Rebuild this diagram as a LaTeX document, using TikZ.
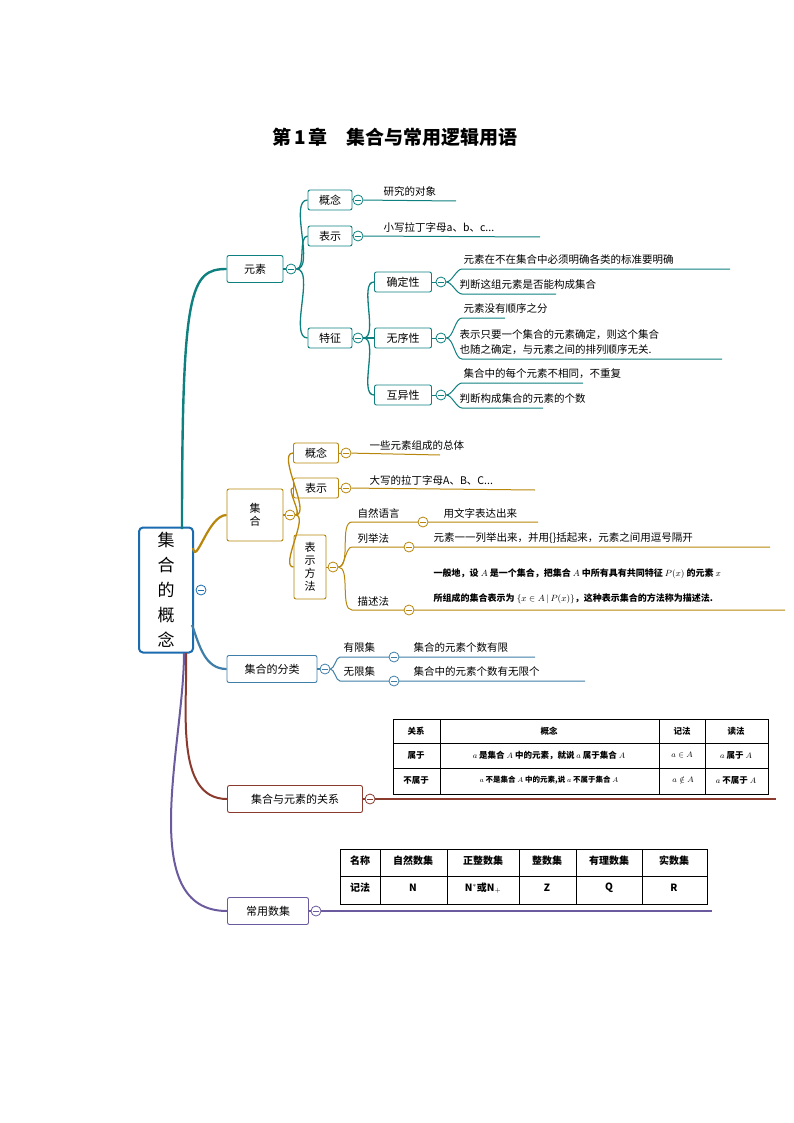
\documentclass[tikz,border=0pt]{standalone}
\usepackage{fontspec}
\setmainfont{Noto Sans CJK SC}
\usepackage{amssymb}
\usetikzlibrary{positioning, calc}
\definecolor{mapteal}{HTML}{0E8080}
\definecolor{mapgold}{HTML}{B8860B}
\definecolor{mapblue}{HTML}{3F7EA8}
\definecolor{mapbrown}{HTML}{8B3A2E}
\definecolor{mappurple}{HTML}{6B5A9E}
\definecolor{mapcenter}{HTML}{1A6BB0}
\begin{document}
\begin{tikzpicture}[x=1pt, y=-1pt,
        topic/.style={draw=#1, rounded corners=2pt, line width=0.9pt,
                      fill=white, inner sep=3pt, font=\fontsize{11}{13}\selectfont,
                      minimum height=20pt, align=center},
        minus/.style={circle, draw=#1, line width=0.8pt, fill=white,
                      minimum size=10pt, inner sep=0pt,
                      path picture={\draw[#1, line width=0.8pt]
                        ([xshift=-2.6pt]path picture bounding box.center) --
                        ([xshift=2.6pt]path picture bounding box.center);}},
        leaf/.style={anchor=south west, inner sep=1.5pt,
                     font=\fontsize{10.5}{15}\selectfont, align=left},
        branch/.style={draw=#1, line width=1.3pt},
        twig/.style={draw=#1, line width=1pt},
        link/.style={out=0, in=180, looseness=0.7}
      ]
        \useasboundingbox (0,0) rectangle (794,1123);
        % Title
        \node[font=\fontsize{19}{22}\selectfont\bfseries] (title) at (395,137)
          {第\,1\,章\quad 集合与常用逻辑用语};
        % Centre
        \node[draw=mapcenter, line width=2pt, rounded corners=4pt, fill=white,
              minimum width=54pt, minimum height=125pt, align=center,
              font=\fontsize{17}{25}\selectfont] (root) at (166,590)
          {集\\合\\的\\概\\念};
        \node[minus=mapcenter] (mroot) at (201,590) {};
        % Main topics
        \node[topic=mapteal, minimum width=56pt, minimum height=27pt] (elem) at (255,269) {元素};
        \node[topic=mapgold, minimum width=56pt, minimum height=52pt] (set) at (255,515) {集\\合};
        \node[topic=mapblue, minimum width=90pt, minimum height=27pt] (kind) at (272,669) {集合的分类};
        \node[topic=mapbrown, minimum width=135pt, minimum height=27pt] (rel) at (295,799) {集合与元素的关系};
        \node[topic=mappurple, minimum width=81pt, minimum height=27pt] (nums) at (268,911) {常用数集};
        % Main branches
        \draw[line width=2.4pt, mapteal] (182,529) .. controls (182,290) and (190,269) .. (elem.west);
        \draw[line width=2.2pt, mapgold] (193,548) to[out=-80, in=180] (set.west);
        \draw[line width=2.2pt, mapblue] (192,625) to[out=-70, in=180] (kind.west);
        \draw[line width=2pt, mapbrown] (186,653) to[out=-88, in=180, looseness=0.9] (rel.west);
        \draw[line width=2pt, mappurple] (184,653) to[out=-90, in=180, looseness=0.9] (nums.west);

        % ---- 元素 ----
        \node[minus=mapteal] (melem) at (291,269) {};
        \node[topic=mapteal, minimum width=44pt] (econc) at (330,200) {概念};
        \node[topic=mapteal, minimum width=44pt] (erep) at (330,236) {表示};
        \node[topic=mapteal, minimum width=44pt] (efeat) at (330,338) {特征};
        \node[minus=mapteal] (meconc) at (358,200) {};
        \node[minus=mapteal] (merep) at (358,236) {};
        \node[minus=mapteal] (mefeat) at (358,338) {};
        \draw[branch=mapteal] (elem) -- (melem);
        \foreach \c in {econc, erep, efeat}
          \draw[branch=mapteal] (melem.east) to[link] (\c.west);
        \foreach \c in {econc, erep, efeat}
          \draw[twig=mapteal] (\c) -- (m\c);
        \coordinate (econcB) at (456,201);
        \coordinate (erepB) at (540,237);
        \draw[twig=mapteal] (meconc) -- (econcB);
        \draw[twig=mapteal] (merep) -- (erepB);
        \node[leaf] (tconc) at (382,198) {研究的对象};
        \node[leaf] (trep) at (382,234) {小写拉丁字母a、b、c...};
        % 特征 children
        \node[topic=mapteal, minimum width=57pt] (fdet) at (403,282) {确定性};
        \node[topic=mapteal, minimum width=57pt] (fdis) at (403,338) {无序性};
        \node[topic=mapteal, minimum width=57pt] (fdif) at (403,395) {互异性};
        \foreach \c in {fdet, fdis, fdif} {
          \draw[branch=mapteal] (mefeat.east) to[link] (\c.west);
          \node[minus=mapteal] (m\c) at ($(\c.east)+(9,0)$) {};
          \draw[twig=mapteal] (\c) -- (m\c);
        }
        \coordinate (d1a) at (462,269); \coordinate (d1b) at (730,269);
        \coordinate (d2a) at (462,294); \coordinate (d2b) at (556,294);
        \coordinate (s1a) at (462,318); \coordinate (s1b) at (505,318);
        \coordinate (s2a) at (462,359); \coordinate (s2b) at (722,359);
        \coordinate (u1a) at (462,383); \coordinate (u1b) at (583,383);
        \coordinate (u2a) at (462,408); \coordinate (u2b) at (543,408);
        \foreach \m/\a/\b in {mfdet/d1a/d1b, mfdet/d2a/d2b, mfdis/s1a/s1b,
                              mfdis/s2a/s2b, mfdif/u1a/u1b, mfdif/u2a/u2b}
          \draw[twig=mapteal] (\m.east) to[link] (\a) -- (\b);
        \node[leaf] (td1) at (462,266) {元素在不在集合中必须明确各类的标准要明确};
        \node[leaf] (td2) at (458,291) {判断这组元素是否能构成集合};
        \node[leaf] (ts1) at (462,315) {元素没有顺序之分};
        \node[leaf] (ts2) at (458,356) {表示只要一个集合的元素确定，则这个集合\\也随之确定，与元素之间的排列顺序无关.};
        \node[leaf] (tu1) at (462,380) {集合中的每个元素不相同，不重复};
        \node[leaf] (tu2) at (458,405) {判断构成集合的元素的个数};

        % ---- 集合 ----
        \node[minus=mapgold] (mset) at (290,515) {};
        \draw[branch=mapgold] (set) -- (mset);
        \node[topic=mapgold, minimum width=45pt] (sconc) at (316,453) {概念};
        \node[topic=mapgold, minimum width=45pt] (srep) at (316,488) {表示};
        \node[topic=mapgold, minimum width=32pt, minimum height=64pt] (smeth) at (310,567) {表\\示\\方\\法};
        \foreach \c in {sconc, srep, smeth}
          \draw[branch=mapgold] (mset.east) to[link] (\c.west);
        \node[minus=mapgold] (msconc) at (346,453) {};
        \node[minus=mapgold] (msrep) at (346,488) {};
        \node[minus=mapgold] (msmeth) at (333,567) {};
        \foreach \c in {sconc, srep, smeth}
          \draw[twig=mapgold] (\c) -- (m\c);
        \coordinate (scB) at (440,455); \coordinate (srB) at (535,490);
        \draw[twig=mapgold] (msconc) -- (scB);
        \draw[twig=mapgold] (msrep) -- (srB);
        \node[leaf] (tsc) at (368,452) {一些元素组成的总体};
        \node[leaf] (tsr) at (368,487) {大写的拉丁字母A、B、C...};
        % 表示方法 children
        \coordinate (natA) at (352,522); \coordinate (natB) at (538,522);
        \coordinate (lisA) at (352,547); \coordinate (lisB) at (770,547);
        \coordinate (desA) at (352,610); \coordinate (desB) at (785,610);
        \foreach \a/\b in {natA/natB, lisA/lisB, desA/desB}
          \draw[twig=mapgold] (msmeth.east) to[link] (\a) -- (\b);
        \node[minus=mapgold] (mnat) at (423,522) {};
        \node[minus=mapgold] (mlis) at (409,547) {};
        \node[minus=mapgold] (mdes) at (409,610) {};
        \node[leaf] (tnat) at (356,520) {自然语言};
        \node[leaf] (tlis) at (356,545) {列举法};
        \node[leaf] (tdes) at (356,608) {描述法};
        \node[leaf] (tnat2) at (442,520) {用文字表达出来};
        \node[leaf] (tlis2) at (432,545) {元素一一列举出来，并用\{\}括起来，元素之间用逗号隔开};
        \node[leaf, font=\fontsize{9}{25}\selectfont\bfseries] (tdes2) at (432,605)
          {一般地，设 $A$ 是一个集合，把集合 $A$ 中所有具有共同特征 $P(x)$ 的元素 $x$\\
           所组成的集合表示为 $\{x\in A\,|\,P(x)\}$，这种表示集合的方法称为描述法.};

        % ---- 集合的分类 ----
        \node[minus=mapblue] (mkind) at (325,669) {};
        \draw[branch=mapblue] (kind) -- (mkind);
        \coordinate (finA) at (340,657); \coordinate (finB) at (535,657);
        \coordinate (infA) at (340,681); \coordinate (infB) at (585,681);
        \foreach \a/\b in {finA/finB, infA/infB}
          \draw[twig=mapblue] (mkind.east) to[link] (\a) -- (\b);
        \node[minus=mapblue] (mfin) at (394,657) {};
        \node[minus=mapblue] (minf) at (394,681) {};
        \node[leaf] (tfin) at (342,654) {有限集};
        \node[leaf] (tinf) at (342,678) {无限集};
        \node[leaf] (tfin2) at (412,654) {集合的元素个数有限};
        \node[leaf] (tinf2) at (412,678) {集合中的元素个数有无限个};

        % ---- 集合与元素的关系 ----
        \node[minus=mapbrown] (mrel) at (370,799) {};
        \coordinate (relB) at (776,799);
        \draw[branch=mapbrown] (rel) -- (mrel) -- (relB);
        \draw[line width=1pt] (393,719) rectangle (768,794);
        \foreach \yy in {743,768} \draw[line width=0.6pt] (393,\yy) -- (768,\yy);
        \foreach \xx in {440,659,705} \draw[line width=0.6pt] (\xx,719) -- (\xx,794);
        \begin{scope}[every node/.style={inner sep=1pt, font=\fontsize{8.5}{10}\selectfont\bfseries}]
          \node (r11) at (416,731) {关系};
          \node (r12) at (549,731) {概念};
          \node (r13) at (682,731) {记法};
          \node (r14) at (736,731) {读法};
          \node (r21) at (416,755) {属于};
          \node (r22) at (549,755) {$a$ 是集合 $A$ 中的元素，就说 $a$ 属于集合 $A$};
          \node (r23) at (682,755) {$a\in A$};
          \node (r24) at (736,755) {$a$ 属于 $A$};
          \node (r31) at (416,780) {不属于};
          \node[font=\fontsize{7.5}{10}\selectfont\bfseries] (r32) at (549,780) {$a$ 不是集合 $A$ 中的元素,说 $a$ 不属于集合 $A$};
          \node (r33) at (683,780) {$a\notin A$};
          \node (r34) at (736,780) {$a$ 不属于 $A$};
        \end{scope}

        % ---- 常用数集 ----
        \node[minus=mappurple] (mnums) at (316,911) {};
        \coordinate (numsB) at (712,911);
        \draw[branch=mappurple] (nums) -- (mnums) -- (numsB);
        \draw[line width=1pt] (340,849) rectangle (707,904);
        \draw[line width=0.6pt] (340,876) -- (707,876);
        \foreach \xx in {380,447,519,576,642} \draw[line width=0.6pt] (\xx,849) -- (\xx,904);
        \begin{scope}[every node/.style={font=\fontsize{10}{12}\selectfont\bfseries}]
          \node (n11) at (360,861) {名称};
          \node (n12) at (413,861) {自然数集};
          \node (n13) at (483,861) {正整数集};
          \node (n14) at (547,861) {整数集};
          \node (n15) at (609,861) {有理数集};
          \node (n16) at (674,861) {实数集};
          \node (n21) at (360,888) {记法};
          \node (n22) at (413,888) {N};
          \node (n23) at (483,888) {N$^{*}$或N$_{+}$};
          \node (n24) at (547,888) {Z};
          \node (n25) at (609,888) {Q};
          \node (n26) at (674,888) {R};
        \end{scope}
      \end{tikzpicture}
\end{document}
